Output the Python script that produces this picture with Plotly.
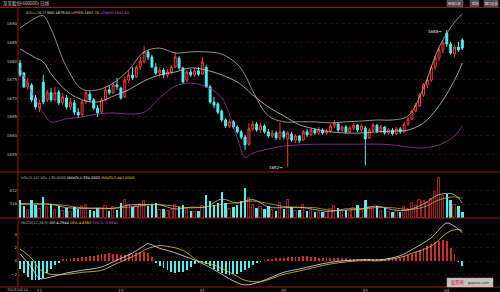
import plotly.graph_objects as go

# ---------------- data ----------------
IDX = list(range(115))
OPEN = [1679.5, 1676.8, 1673.1, 1673.6, 1670.1, 1667.4, 1674.4, 1669.6, 1671.5, 1669.6,
        1671.7, 1668.8, 1670.1, 1667.7, 1668.8, 1666.3, 1665.7, 1669.0, 1671.2, 1669.6,
        1667.4, 1666.3, 1669.6, 1672.3, 1671.5, 1673.6, 1672.8, 1670.4, 1674.9, 1676.3,
        1675.8, 1678.4, 1679.8, 1682.5, 1681.1, 1678.4, 1676.8, 1677.6, 1676.3, 1677.1,
        1678.4, 1680.8, 1678.2, 1674.9, 1677.1, 1676.3, 1677.4, 1676.5, 1678.4, 1673.1,
        1669.0, 1668.5, 1666.6, 1664.2, 1662.6, 1663.7, 1662.3, 1661.0, 1659.6, 1657.7,
        1661.8, 1663.1, 1661.5, 1662.6, 1661.0, 1659.9, 1660.7, 1659.4, 1661.0, 1659.1,
        1660.4, 1658.8, 1659.9, 1658.8, 1661.0, 1660.2, 1661.5, 1660.7, 1661.5, 1660.7,
        1661.2, 1662.6, 1663.1, 1661.5, 1662.3, 1661.0, 1662.0, 1662.8, 1661.5, 1662.0,
        1659.4, 1661.5, 1662.8, 1661.2, 1662.3, 1660.7, 1661.5, 1660.5, 1661.8, 1661.0,
        1663.1, 1664.4, 1666.6, 1668.0, 1670.9, 1673.6, 1674.9, 1678.4, 1680.8, 1683.0,
        1687.6, 1684.6, 1682.0, 1683.8, 1685.7]
HIGH = [1680.3, 1677.1, 1675.5, 1674.1, 1670.9, 1669.6, 1676.3, 1672.3, 1672.8, 1673.1,
        1672.3, 1671.5, 1670.9, 1670.1, 1669.6, 1667.4, 1669.6, 1672.3, 1672.0, 1670.1,
        1668.2, 1670.1, 1673.1, 1673.6, 1674.4, 1675.5, 1673.1, 1675.8, 1677.6, 1678.4,
        1679.0, 1681.1, 1684.1, 1683.0, 1681.7, 1679.5, 1678.4, 1678.2, 1677.9, 1679.0,
        1682.5, 1681.4, 1678.4, 1677.6, 1677.9, 1678.2, 1678.4, 1681.1, 1679.0, 1673.6,
        1670.4, 1669.0, 1667.0, 1664.7, 1664.4, 1664.2, 1662.8, 1661.5, 1660.2, 1663.4,
        1663.9, 1663.7, 1663.4, 1663.1, 1661.8, 1661.5, 1661.2, 1663.4, 1661.5, 1661.2,
        1661.0, 1660.4, 1660.2, 1661.5, 1661.8, 1662.0, 1662.0, 1662.3, 1662.0, 1661.8,
        1663.1, 1664.2, 1663.4, 1662.8, 1662.8, 1662.6, 1663.4, 1663.1, 1663.1, 1662.6,
        1662.0, 1663.4, 1663.1, 1662.8, 1662.6, 1662.0, 1662.0, 1662.3, 1662.3, 1663.7,
        1665.0, 1667.0, 1668.8, 1671.5, 1674.1, 1675.8, 1679.0, 1681.4, 1683.8, 1685.7,
        1688.4, 1685.2, 1684.4, 1685.2, 1686.2]
LOW = [1675.8, 1672.8, 1672.3, 1669.0, 1667.0, 1666.3, 1668.5, 1669.0, 1669.0, 1669.2,
       1668.2, 1668.2, 1667.0, 1666.9, 1665.5, 1664.7, 1665.0, 1668.5, 1669.0, 1666.9,
       1665.0, 1666.0, 1669.2, 1670.9, 1671.2, 1672.3, 1669.6, 1670.1, 1674.1, 1674.9,
       1675.5, 1677.6, 1679.5, 1680.3, 1678.2, 1676.3, 1675.8, 1675.5, 1675.5, 1676.5,
       1678.2, 1677.6, 1673.9, 1674.4, 1675.8, 1675.8, 1676.0, 1676.3, 1672.8, 1668.5,
       1667.4, 1665.7, 1663.7, 1662.0, 1662.0, 1661.8, 1660.5, 1659.0, 1656.1, 1657.2,
       1661.2, 1661.0, 1660.7, 1660.5, 1659.4, 1659.4, 1658.8, 1658.8, 1659.0, 1651.6,
       1658.3, 1658.0, 1658.0, 1658.6, 1659.6, 1659.9, 1660.2, 1660.2, 1660.2, 1660.2,
       1660.7, 1662.0, 1661.0, 1661.0, 1660.5, 1660.7, 1661.5, 1661.0, 1661.0, 1652.0,
       1659.0, 1661.0, 1660.7, 1660.7, 1660.2, 1660.2, 1660.0, 1660.2, 1660.5, 1660.7,
       1662.6, 1664.2, 1666.3, 1667.7, 1670.4, 1672.8, 1674.4, 1677.6, 1680.0, 1682.2,
       1683.8, 1681.7, 1681.1, 1682.5, 1683.0]
CLOSE = [1676.3, 1673.1, 1674.1, 1669.6, 1667.7, 1668.8, 1669.0, 1671.7, 1669.6, 1671.5,
         1668.8, 1670.4, 1667.7, 1669.0, 1666.3, 1665.5, 1669.0, 1671.5, 1669.6, 1667.4,
         1666.1, 1669.6, 1672.3, 1671.5, 1673.6, 1673.1, 1670.1, 1674.9, 1676.3, 1675.5,
         1678.4, 1680.0, 1682.5, 1681.1, 1678.4, 1676.8, 1677.6, 1676.3, 1677.1, 1678.4,
         1681.1, 1678.2, 1674.4, 1677.1, 1676.3, 1677.4, 1676.5, 1679.8, 1673.1, 1669.0,
         1668.2, 1666.3, 1664.2, 1662.6, 1663.7, 1662.3, 1661.0, 1659.6, 1657.5, 1661.8,
         1663.1, 1661.5, 1662.6, 1661.0, 1659.9, 1660.7, 1659.4, 1661.0, 1659.6, 1660.7,
         1658.8, 1659.9, 1658.6, 1661.0, 1660.2, 1661.5, 1660.7, 1661.5, 1660.7, 1661.2,
         1662.6, 1663.4, 1661.5, 1662.3, 1661.0, 1662.0, 1662.8, 1661.5, 1662.6, 1659.1,
         1661.5, 1662.8, 1661.2, 1662.3, 1660.7, 1661.5, 1660.5, 1661.8, 1661.0, 1663.1,
         1664.4, 1666.6, 1668.2, 1670.9, 1673.6, 1674.9, 1678.4, 1680.8, 1683.0, 1684.9,
         1684.6, 1682.2, 1683.8, 1683.0, 1683.5]
VOLUME = [420, 260, 180, 400, 300, 200, 480, 250, 320, 180,
          270, 150, 230, 140, 250, 200, 260, 300, 180, 160,
          220, 200, 260, 150, 240, 180, 330, 400, 300, 250,
          280, 320, 380, 280, 300, 340, 180, 200, 150, 170,
          300, 250, 300, 200, 150, 140, 160, 280, 520, 380,
          300, 350, 600, 330, 200, 250, 300, 380, 680, 450,
          300, 220, 250, 200, 260, 180, 160, 350, 200, 420,
          250, 160, 180, 300, 150, 170, 130, 140, 120, 130,
          200, 260, 220, 150, 180, 140, 220, 300, 180, 420,
          250, 230, 260, 150, 230, 140, 130, 160, 140, 240,
          200, 330, 280, 400, 380, 350, 430, 600, 920, 500,
          560, 400, 300, 280, 130]

BAND_IDX = [0, 4, 6, 8, 12, 16, 20, 24, 28, 32, 36, 40, 44, 48, 52, 56, 58, 60,
            64, 68, 72, 76, 80, 84, 88, 92, 96, 100, 104, 108, 112, 114]
BOLL_UPPER = [1688.9, 1691.6, 1692.2, 1688.7, 1678.4, 1672.5, 1672.3, 1674.1, 1677.6, 1682.5,
              1683.5, 1682.2, 1682.5, 1682.5, 1681.9, 1679.2, 1676.3, 1672.0, 1665.3, 1663.7,
              1663.7, 1663.7, 1663.4, 1663.7, 1663.9, 1664.2, 1664.2, 1665.3, 1672.8, 1683.8,
              1690.5, 1692.7]
BOLL_MID = [1683.3, 1680.9, 1679.8, 1676.6, 1672.0, 1669.6, 1669.0, 1670.6, 1672.3, 1674.7,
            1676.3, 1677.1, 1678.2, 1677.6, 1676.3, 1674.4, 1672.8, 1670.9, 1667.7, 1665.3,
            1662.9, 1661.8, 1661.0, 1660.7, 1660.7, 1661.0, 1661.2, 1661.5, 1663.4, 1668.0,
            1674.9, 1679.5]
BOLL_LOWER = [1678.2, 1669.6, 1666.1, 1663.7, 1664.5, 1665.0, 1665.8, 1666.1, 1665.8, 1666.3,
              1670.1, 1673.3, 1674.1, 1673.1, 1670.1, 1659.4, 1654.2, 1655.3, 1656.4, 1657.2,
              1657.5, 1657.7, 1657.7, 1657.7, 1657.7, 1657.7, 1657.5, 1656.9, 1656.7, 1657.5,
              1659.9, 1662.6]

VMA_IDX = [0, 4, 8, 12, 16, 20, 24, 28, 32, 36, 40, 44, 48, 52, 56, 60, 64, 68, 72, 76,
           80, 84, 88, 92, 96, 100, 104, 108, 112, 114]
MAVOL1 = [330, 312, 310, 230, 216, 224, 214, 290, 306, 296, 200, 240, 250, 430, 336,
          422, 246, 230, 242, 186, 144, 202, 204, 268, 182, 174, 318, 536, 536, 334]
MAVOL2 = [300, 320, 310, 278, 225, 209, 217, 244, 283, 303, 262, 224, 247, 308, 351,
          384, 329, 257, 236, 231, 168, 170, 198, 233, 229, 188, 240, 413, 484, 447]

MACD_IDX = [0, 3, 5, 8, 12, 16, 21, 25, 29, 32, 33, 36, 38, 42, 46, 50, 55, 58, 62, 68,
            72, 80, 88, 93, 98, 101, 106, 110, 112, 114]
DIF = [1.1, -1.0, -2.6, -2.4, -1.8, -1.4, -0.9, 0.15, 1.2, 2.3, 2.6, 1.9, 1.6, 0.8, -0.1,
       -1.3, -3.0, -3.6, -3.1, -1.7, -1.2, -0.2, 0.2, 0.2, 0.8, 1.7, 3.5, 5.7, 5.2, 4.2944]
DEA = [1.8, 0.4, -1.2, -2.0, -2.0, -1.7, -1.4, -0.35, 0.65, 1.6, 1.9, 2.3, 2.2, 1.6, 0.0,
       -0.6, -2.0, -2.9, -3.1, -2.0, -1.5, -0.45, 0.05, 0.05, 0.55, 1.15, 2.25, 4.2, 4.7, 4.6365]
MACD_HIST = [-1.2, -1.8, -2.4, -2.8, -2.9, -2.8, -2.5,
             -1.8, -1.2, -0.6, -0.2,
             0.2, 0.3, 0.4, 0.5, 0.5, 0.6,
             0.6, 0.7, 0.8, 0.9, 1.0, 1.1,
             1.2, 1.1, 1.0, 0.9, 0.9,
             1.0, 1.1, 1.2, 1.3, 1.4, 1.2,
             0.6,
             -0.3, -0.7, -1.1, -1.4, -1.6, -1.8, -1.7, -1.6,
             -1.3, -0.9, -0.5, -0.2, -0.1,
             -0.4, -0.8, -1.2, -1.5, -1.8, -2.0, -2.1, -2.0, -1.9, -1.7, -1.4,
             -1.0, -0.6, -0.3, -0.1, 0.1, 0.2, 0.3,
             0.4, 0.5, 0.5, 0.6, 0.6, 0.6, 0.6, 0.7, 0.7, 0.6, 0.6, 0.5, 0.5, 0.5,
             0.5, 0.5, 0.4, 0.4, 0.4, 0.3, 0.3, 0.3, 0.3, 0.2, 0.2, 0.2, 0.3, 0.3, 0.3,
             0.4, 0.4, 0.5, 0.5,
             0.7, 0.9, 1.1, 1.3, 1.6, 1.9, 2.2, 2.5, 2.8, 3.0, 3.1,
             3.0, 2.0, 1.0, -0.1, -0.6841]

PRICE_TICKS = [1655, 1660, 1665, 1670, 1675, 1680, 1685, 1690]
VOL_TICKS = [316, 632]
MACD_TICKS = [-2, 0, 2, 4]
MONTH_POS = [5, 26, 47, 68, 89, 110]
MONTH_TEXT = ["11", "12", "01", "02", "03", "04"]
START_DATE = "2013/10/14"
TITLE = "某某股份(600000) 日线"

# ---------------- style ----------------
W, H = 500, 292
RED = "#ff3a3a"
HIST_RED = "#c83030"
CYAN = "#4ef0f0"
BORDER = "#a01414"
GRID = "#360505"
GREY = "#bdbdbd"
FONT = "DejaVu Sans"
CJK = "Noto Sans CJK SC"


def X(px):
    return px / W


def Y(py):
    return 1 - py / H


up = [i for i in IDX if CLOSE[i] >= OPEN[i]]
dn = [i for i in IDX if CLOSE[i] < OPEN[i]]

fig = go.Figure()

fig.add_trace(go.Candlestick(
    x=IDX, open=OPEN, high=HIGH, low=LOW, close=CLOSE,
    increasing=dict(line=dict(color=RED, width=1), fillcolor="#000000"),
    decreasing=dict(line=dict(color=CYAN, width=1), fillcolor=CYAN),
    whiskerwidth=0, xaxis="x", yaxis="y", hoverinfo="skip"))

fig.add_trace(go.Scatter(x=BAND_IDX, y=BOLL_UPPER, mode="lines",
                         line=dict(color="#b8b4a8", width=0.8, shape="spline"), yaxis="y"))
fig.add_trace(go.Scatter(x=BAND_IDX, y=BOLL_MID, mode="lines",
                         line=dict(color="#c8c8c8", width=0.8, shape="spline"), yaxis="y"))
fig.add_trace(go.Scatter(x=BAND_IDX, y=BOLL_LOWER, mode="lines",
                         line=dict(color="#9a3aa8", width=0.8, shape="spline"), yaxis="y"))

# volume
fig.add_trace(go.Bar(x=up, y=[VOLUME[i] for i in up], width=0.62, yaxis="y2",
                     marker=dict(color="rgba(0,0,0,0)", line=dict(color="#d83030", width=0.8))))
fig.add_trace(go.Bar(x=dn, y=[VOLUME[i] for i in dn], width=0.62, yaxis="y2",
                     marker=dict(color=CYAN, line=dict(width=0))))
fig.add_trace(go.Scatter(x=VMA_IDX, y=MAVOL1, mode="lines", yaxis="y2",
                         line=dict(color="#d8d8d8", width=0.7, shape="spline")))
fig.add_trace(go.Scatter(x=VMA_IDX, y=MAVOL2, mode="lines", yaxis="y2",
                         line=dict(color="#d8c040", width=0.7, shape="spline")))

# MACD
fig.add_trace(go.Bar(x=IDX, y=MACD_HIST, width=0.22, yaxis="y3",
                     marker=dict(color=[HIST_RED if v >= 0 else CYAN for v in MACD_HIST],
                                 line=dict(width=0))))
fig.add_trace(go.Scatter(x=MACD_IDX, y=DIF, mode="lines", yaxis="y3",
                         line=dict(color="#e8e8e8", width=0.8, shape="spline")))
fig.add_trace(go.Scatter(x=MACD_IDX, y=DEA, mode="lines", yaxis="y3",
                         line=dict(color="#e0c840", width=0.8, shape="spline")))

axis_common = dict(showline=False, zeroline=False, ticks="",
                   tickfont=dict(size=4, color=GREY, family=FONT),
                   gridcolor=GRID, griddash="dot", gridwidth=1)

fig.update_layout(
    width=W, height=H, margin=dict(l=0, r=0, t=0, b=0),
    paper_bgcolor="#000000", plot_bgcolor="#000000",
    showlegend=False, bargap=0,
    xaxis=dict(domain=[X(18), 1], range=[-0.515, 123.71], anchor="y3",
               showgrid=False, zeroline=False, showline=False, ticks="",
               tickvals=MONTH_POS, ticktext=MONTH_TEXT,
               tickfont=dict(size=4, color=GREY, family=FONT),
               rangeslider=dict(visible=False)),
    yaxis=dict(domain=[Y(172), Y(7.5)], range=[1650.21, 1694.43], anchor="x",
               tickvals=PRICE_TICKS, **axis_common),
    yaxis2=dict(domain=[Y(218), Y(172)], range=[-11.7, 1064.7], anchor="x",
                tickvals=VOL_TICKS, **axis_common),
    yaxis3=dict(domain=[Y(287), Y(218)], range=[-3.91, 6.466], anchor="x",
                tickvals=MACD_TICKS, **axis_common),
)

# frame lines
shapes = []
for py in (7.5, 172, 218, 287):
    shapes.append(dict(type="line", xref="paper", yref="paper", x0=0, x1=1, y0=Y(py), y1=Y(py),
                       line=dict(color=BORDER, width=1)))
shapes.append(dict(type="line", xref="paper", yref="paper", x0=X(18), x1=X(18), y0=Y(7.5), y1=Y(287),
                   line=dict(color=BORDER, width=1)))
# top-right buttons
for x0, x1 in ((447, 463), (470, 479), (484, 498)):
    shapes.append(dict(type="rect", xref="paper", yref="paper", x0=X(x0), x1=X(x1), y0=Y(6.5), y1=Y(0.5),
                       fillcolor="#4a4a4a", line=dict(color="#7a7a7a", width=0.5)))
# watermark
shapes.append(dict(type="rect", xref="paper", yref="paper", x0=X(447), x1=X(493), y0=Y(287), y1=Y(278),
                   fillcolor="rgba(235,225,225,0.85)", line=dict(color="#c0a0a0", width=0.5)))
fig.update_layout(shapes=shapes)

ann = []


def txt(x, y, s, size=4, color=GREY, anchor="left", family=FONT):
    ann.append(dict(xref="paper", yref="paper", x=X(x), y=Y(y), text=s, showarrow=False,
                    xanchor=anchor, yanchor="middle", font=dict(size=size, color=color, family=family)))


txt(1, 3.5, TITLE, size=4.5, color="#c8c8c8", family=CJK)
txt(24, 13,
    f"BOLL(26,2) <span style='color:#e8e8e8'>MID:{BOLL_MID[-1]:.2f}</span> "
    f"<span style='color:#e8d040'>UPPER:{BOLL_UPPER[-1]:.2f}</span> "
    f"<span style='color:#c050d0'>LOWER:{BOLL_LOWER[-1]:.2f}</span>", size=3.6)
txt(19, 177.5,
    f"VOL(5,10) VOL:{VOLUME[-1]:.4f} <span style='color:#e8e8e8'>MAVOL1:{MAVOL1[-1]:.4f}</span> "
    f"<span style='color:#e8d040'>MAVOL2:{MAVOL2[-1]:.4f}</span>", size=3.6)
txt(19, 222.5,
    f"MACD(12,26,9) <span style='color:#e8e8e8'>DIF:{DIF[-1]:.4f}</span> "
    f"<span style='color:#e8d040'>DEA:{DEA[-1]:.4f}</span> "
    f"<span style='color:#c050d0'>MACD:{MACD_HIST[-1]:.4f}</span>", size=3.6)
txt(17, 289.5, START_DATE, size=3.6, anchor="center")
for (x0, x1), s in zip(((447, 463), (470, 479), (484, 498)), ("画线工具", "帮助", "窗口设置")):
    txt((x0 + x1) / 2, 3.5, s, size=3.2, color="#e0e0e0", anchor="center", family=CJK)
txt(449, 282.5, "股票网", size=4.2, color="#d01818", family=CJK)
txt(466, 282.5, "gupiao.com", size=3.6, color="#303030")

# high / low markers
hi = max(range(len(HIGH)), key=lambda i: HIGH[i])
lo = min(range(len(LOW)), key=lambda i: LOW[i])
ann.append(dict(xref="x", yref="y", x=hi - 0.6, y=HIGH[hi] - 0.3, text=f"{HIGH[hi]:.0f}→",
                showarrow=False, xanchor="right", yanchor="middle",
                font=dict(size=4, color="#e8e8e8", family=FONT)))
ann.append(dict(xref="x", yref="y", x=lo - 0.6, y=LOW[lo] - 0.3, text=f"{LOW[lo]:.0f}→",
                showarrow=False, xanchor="right", yanchor="middle",
                font=dict(size=4, color="#e8e8e8", family=FONT)))
fig.update_layout(annotations=ann)

fig.write_html("out.html")
